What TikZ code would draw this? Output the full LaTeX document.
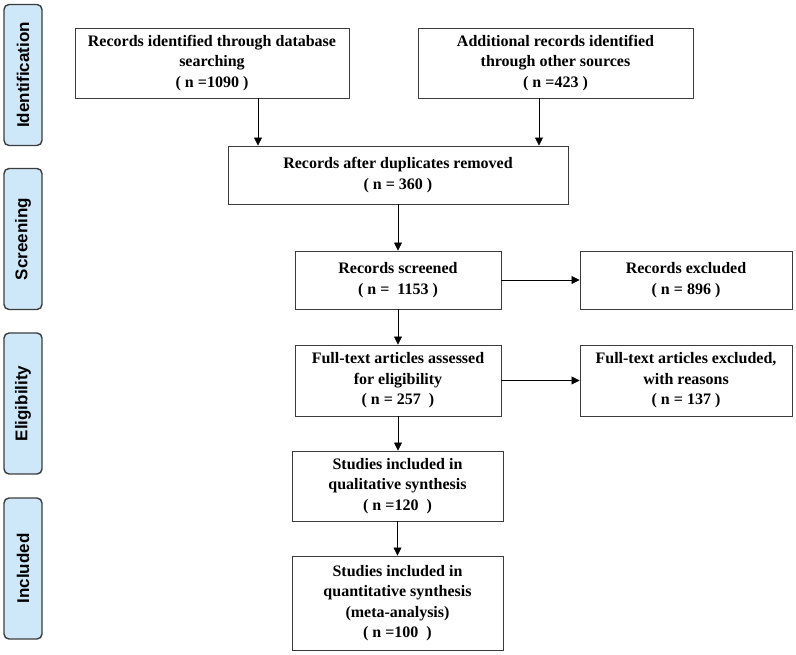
\documentclass[tikz,border=0pt]{standalone}
\usepackage{fontspec}
\setmainfont{Liberation Serif}
\newfontfamily\sidefont{Liberation Sans}
\usepackage{tikz}
\usetikzlibrary{arrows.meta}
\definecolor{sideblue}{RGB}{206,232,250}
\definecolor{linegray}{RGB}{60,60,60}
\tikzset{
  phase/.style={draw=linegray, line width=1.4pt, fill=sideblue, rounded corners=5pt,
    rotate=90, minimum width=141pt, minimum height=38pt, inner sep=0pt,
    font=\sidefont\bfseries\fontsize{17}{20}\selectfont},
  flowbox/.style={draw=linegray, line width=0.9pt, align=center, inner sep=0pt,
    font=\bfseries\fontsize{16}{20.5}\selectfont},
  arr/.style={draw=black, line width=0.8pt, -{Triangle[length=8pt,width=8pt]}}
}

\begin{document}
\begin{tikzpicture}[x=1pt,y=-1pt]
\useasboundingbox (0,0) rectangle (796,655);
% phases on the left
\node[phase] (ident) at (23,75) {Identification};
\node[phase] (screen) at (23,239) {Screening};
\node[phase] (elig) at (23,403.5) {Eligibility};
\node[phase] (incl) at (23,568.5) {Included};
% boxes
\node[flowbox, minimum width=274pt, minimum height=70pt] (db) at (212,63)
  {Records identified through database\\searching\\( n =1090 )};
\node[flowbox, minimum width=275pt, minimum height=70pt] (other) at (555.5,63)
  {Additional records identified\\through other sources\\( n =423 )};
\node[flowbox, minimum width=340pt, minimum height=58pt] (dup) at (398,175)
  {Records after duplicates removed\\( n = 360 )};
\node[flowbox, minimum width=206pt, minimum height=58pt] (screened) at (398,280)
  {Records screened\\( n =\ \ 1153 )};
\node[flowbox, minimum width=212pt, minimum height=58pt] (excl) at (686,280)
  {Records excluded\\( n = 896 )};
\node[flowbox, minimum width=206pt, minimum height=71pt] (full) at (398,380.5)
  {Full-text articles assessed\\for eligibility\\( n = 257\ \ )};
\node[flowbox, minimum width=212pt, minimum height=71pt] (fullexcl) at (686,380.5)
  {Full-text articles excluded,\\with reasons\\( n = 137 )};
\node[flowbox, minimum width=211pt, minimum height=70pt] (qual) at (397.5,486)
  {Studies included in\\qualitative synthesis\\( n =120\ \ )};
\node[flowbox, minimum width=211pt, minimum height=94pt] (quant) at (397.5,603)
  {Studies included in\\quantitative synthesis\\(meta-analysis)\\( n =100\ \ )};
% arrows
\draw[arr] ([xshift=46pt]db.south) -- ([xshift=46pt]db.south |- dup.north);
\draw[arr] ([xshift=-16.5pt]other.south) -- ([xshift=-16.5pt]other.south |- dup.north);
\draw[arr] (dup) -- (screened);
\draw[arr] (screened) -- (excl);
\draw[arr] (screened) -- (full);
\draw[arr] (full) -- (fullexcl);
\draw[arr] (full.south) -- (full.south |- qual.north);
\draw[arr] (qual) -- (quant);
\end{tikzpicture}
\end{document}
